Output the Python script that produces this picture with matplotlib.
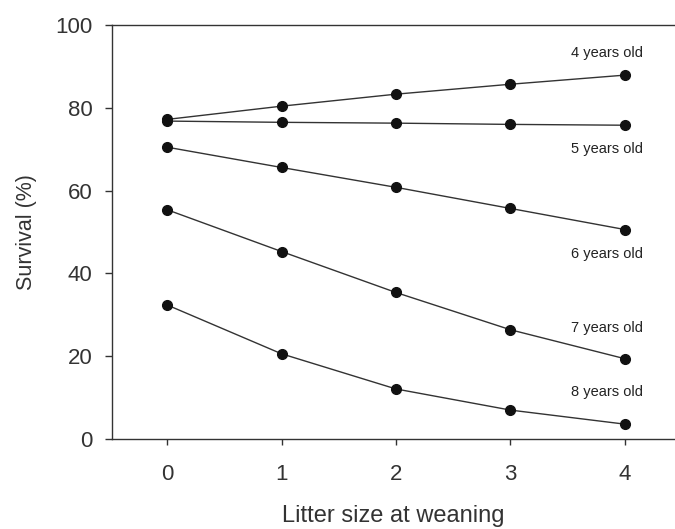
import matplotlib
matplotlib.use("Agg")
import matplotlib.pyplot as plt

plt.rcParams['font.family'] = ['Liberation Sans', 'DejaVu Sans']

litter = [0, 1, 2, 3, 4]
age_labels = ['4 years old', '5 years old', '6 years old', '7 years old', '8 years old']
surv_4 = [77.2, 80.4, 83.3, 85.7, 87.9]
surv_5 = [76.8, 76.5, 76.3, 76.0, 75.8]
surv_6 = [70.5, 65.6, 60.8, 55.7, 50.6]
surv_7 = [55.4, 45.3, 35.4, 26.4, 19.4]
surv_8 = [32.4, 20.6, 12.1, 7.0, 3.6]
label_y = [93.2, 70.0, 44.7, 26.8, 11.4]

fig = plt.figure(figsize=(6.75, 5.29), dpi=100)
ax = fig.add_axes([0.1655, 0.170, 0.8345, 0.7827])

for s in [surv_4, surv_5, surv_6, surv_7, surv_8]:
    ax.plot(litter, s, color='#333333', lw=1.0, marker='o', ms=7,
            mfc='#111111', mec='#111111')

for lab, yy in zip(age_labels, label_y):
    ax.text(3.84, yy, lab, ha='center', va='center', fontsize=10.5, color='#222222')

ax.set_xlim(-0.483, 4.437)
ax.set_ylim(0, 100)
ax.set_xticks(litter)
ax.set_yticks([0, 20, 40, 60, 80, 100])
ax.spines['right'].set_visible(False)
for sp in ['left', 'bottom', 'top']:
    ax.spines[sp].set_color('#333333')
    ax.spines[sp].set_linewidth(1.0)
ax.tick_params(axis='both', labelsize=16, colors='#333333', length=5, width=1)
ax.tick_params(axis='x', length=4, pad=14)
ax.tick_params(axis='y', pad=9)
ax.set_xlabel('Litter size at weaning', fontsize=17, color='#333333', labelpad=14)
ax.set_ylabel('Survival (%)', fontsize=15.5, color='#333333', labelpad=13)

fig.savefig('out.png', dpi=100)
